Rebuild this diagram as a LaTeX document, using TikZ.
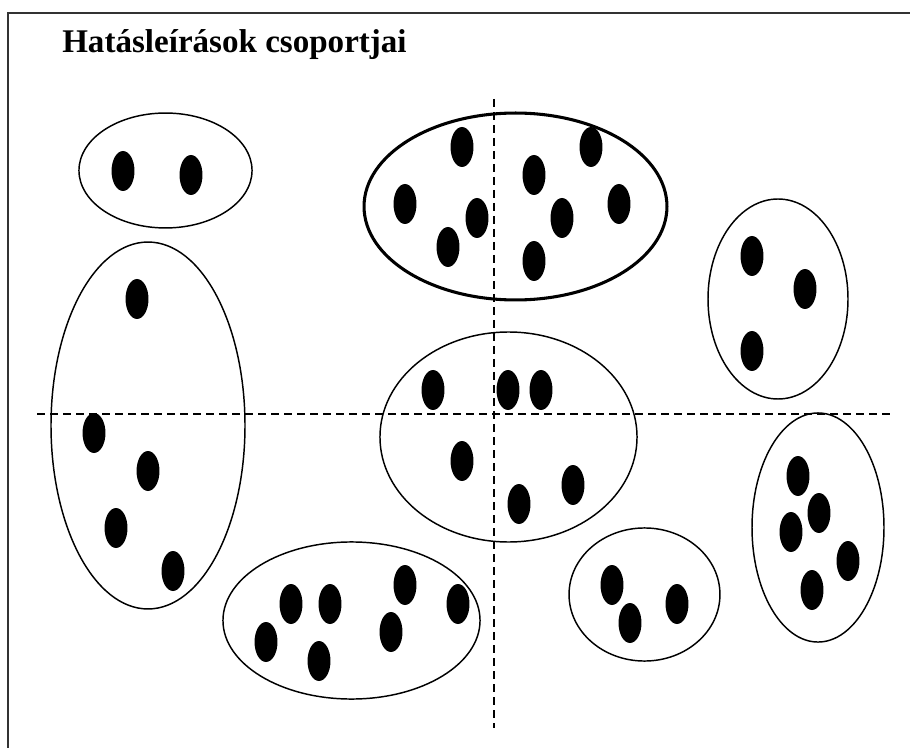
\documentclass[tikz,border=0pt]{standalone}
\usepackage{fontspec}
\setmainfont{Liberation Serif}
\newcommand\blobat[1]{\fill #1 ellipse [x radius=8.6pt, y radius=15pt];}
\begin{document}
\begin{tikzpicture}[x=0.75pt,y=-0.75pt,
  group/.style={line width=1.1pt},
  biggroup/.style={line width=2.3pt},
  axis/.style={line width=1.4pt, dash pattern=on 6pt off 3.75pt}]
\useasboundingbox (0,0) rectangle (910,748);
\clip (0,0) rectangle (910,748);
\fill[white] (0,0) rectangle (910,748);
\draw[line width=1.5pt, black!80] (8,13) rectangle (915,755);
\node[anchor=base west, inner sep=0, font=\bfseries\fontsize{24.8pt}{28pt}\selectfont] (title) at (62,53) {Hatásleírások csoportjai};
% axes
\coordinate (vtop) at (494,99);
\coordinate (vbot) at (494,728);
\coordinate (hl) at (37,414);
\coordinate (hr) at (895,414);
\draw[axis] (vtop) -- (vbot);
\draw[axis] (hl) -- (hr);
% groups
\draw[group] (165.5,170.5) ellipse [x radius=64.9pt, y radius=43.1pt];
\draw[group] (148,425.5) ellipse [x radius=72.75pt, y radius=137.6pt];
\draw[biggroup] (515.5,206.5) ellipse [x radius=113.6pt, y radius=70.1pt];
\draw[group] (778,299) ellipse [x radius=52.5pt, y radius=75pt];
\draw[group] (508.5,437) ellipse [x radius=96.4pt, y radius=78.75pt];
\draw[group] (351.5,620.5) ellipse [x radius=96.4pt, y radius=58.9pt];
\draw[group] (644.5,594.5) ellipse [x radius=56.6pt, y radius=49.9pt];
\draw[group] (818,527.5) ellipse [x radius=49.5pt, y radius=85.9pt];
% dots
\blobat{(123,171)}\blobat{(191,175)}
\blobat{(137,299)}\blobat{(94,433)}\blobat{(148,471)}\blobat{(116,528)}\blobat{(173,571)}
\blobat{(462,147)}\blobat{(534,175)}\blobat{(591,147)}\blobat{(405,204)}\blobat{(477,218)}\blobat{(562,218)}\blobat{(619,204)}\blobat{(448,247)}\blobat{(534,261)}
\blobat{(752,256)}\blobat{(805,289)}\blobat{(752,351)}
\blobat{(433,390)}\blobat{(508,390)}\blobat{(541,390)}\blobat{(462,461)}\blobat{(519,504)}\blobat{(573,485)}
\blobat{(291,604)}\blobat{(330,604)}\blobat{(405,585)}\blobat{(266,642)}\blobat{(319,661)}\blobat{(391,632)}\blobat{(458,604)}
\blobat{(612,585)}\blobat{(630,623)}\blobat{(677,604)}
\blobat{(798,476)}\blobat{(819,513)}\blobat{(791,532)}\blobat{(848,561)}\blobat{(812,590)}
\end{tikzpicture}
\end{document}
